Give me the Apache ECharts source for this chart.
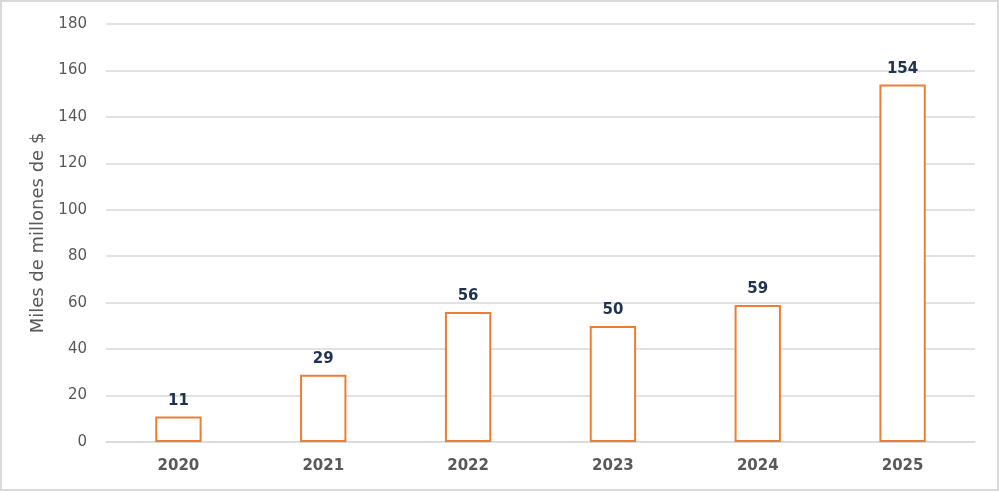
<!DOCTYPE html>
<html><head><meta charset="utf-8">
<script src="https://cdn.jsdelivr.net/npm/echarts@6/dist/echarts.min.js"></script>
<style>
html,body{margin:0;padding:0;background:#fff;}
#c{width:999px;height:491px;box-sizing:border-box;border:2px solid #d9d9d9;}
</style></head><body>
<div id="c"></div>
<script>
const categories = ['2020','2021','2022','2023','2024','2025'];
const values = [11, 29, 56, 50, 59, 154];
const yTicks = [0, 20, 40, 60, 80, 100, 120, 140, 160, 180];
const yName = 'Miles de millones de $';

const chart = echarts.init(document.getElementById('c'));
chart.setOption({
  animation: false,
  grid: {left: 104, right: 22, top: 22, bottom: 47},
  xAxis: {
    type: 'category', data: categories,
    axisLine: {lineStyle: {color: '#d9d9d9', width: 1.5}},
    axisTick: {show: false},
    axisLabel: {color: '#595959', fontFamily: 'DejaVu Sans', fontWeight: 'bold', fontSize: 15, margin: 17}
  },
  yAxis: {
    type: 'value', min: yTicks[0], max: yTicks[yTicks.length-1], interval: 20,
    name: yName, nameLocation: 'middle', nameGap: 54,
    nameTextStyle: {color: '#595959', fontFamily: 'DejaVu Sans', fontSize: 18},
    axisLine: {show: false}, axisTick: {show: false},
    splitLine: {lineStyle: {color: '#d9d9d9', width: 1.5}},
    axisLabel: {color: '#595959', fontFamily: 'DejaVu Sans', fontSize: 15, margin: 19}
  },
  series: [{
    type: 'bar', data: values, barWidth: '32%',
    itemStyle: {color: '#ffffff', borderColor: '#ed7d31', borderWidth: 2},
    label: {show: true, position: 'top', distance: 8, color: '#1f3350', fontFamily: 'DejaVu Sans', fontWeight: 'bold', fontSize: 15}
  }]
});
</script></body></html>
